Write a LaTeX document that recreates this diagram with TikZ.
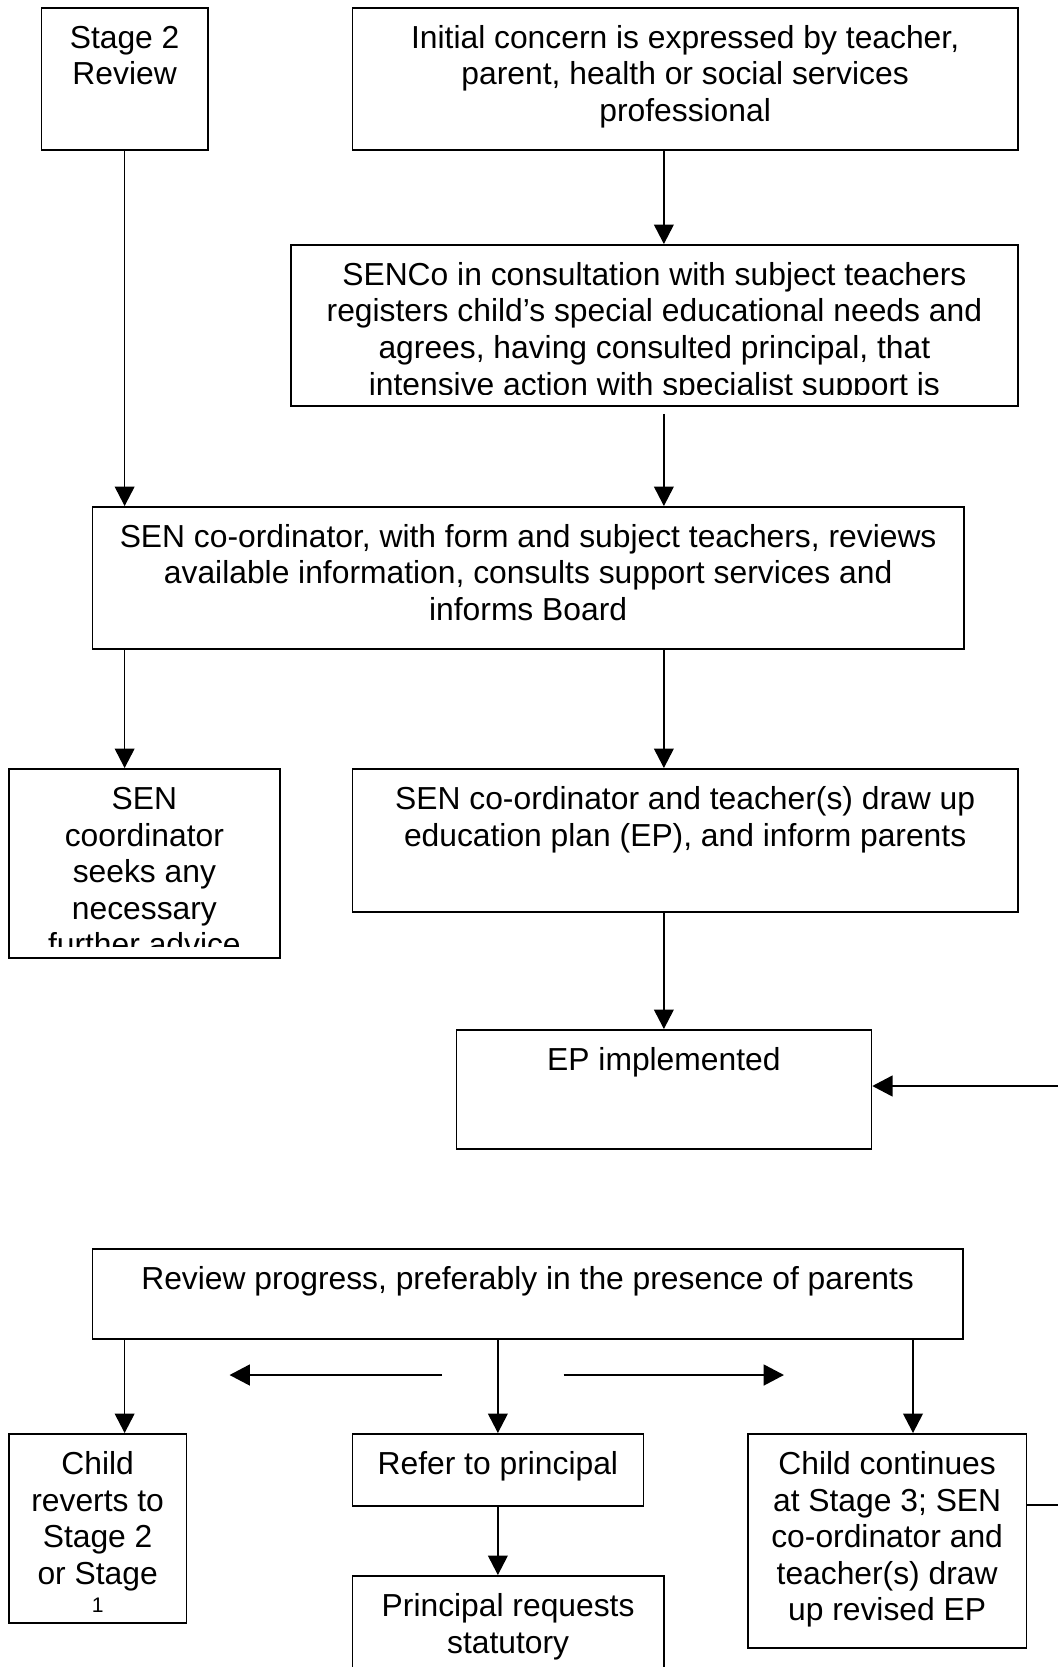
\documentclass[tikz,border=0pt]{standalone}
\usepackage{fontspec}
\setmainfont{Liberation Sans}
\usetikzlibrary{arrows.meta}

\begin{document}
\begin{tikzpicture}[
  caja/.style={draw, line width=1pt, inner sep=0pt, anchor=north west},
  texto/.style={font=\fontsize{18.1}{20.8}\selectfont, align=center, anchor=north, inner sep=0pt},
  flecha/.style={line width=0.8pt, -{Triangle[length=11pt,width=11.2pt]}},
  flechagruesa/.style={line width=1.4pt, -{Triangle[length=11.6pt,width=11.8pt]}}
]
%area de la pagina
\path[use as bounding box, clip] (0,0) rectangle (21.16,-33.34);

%cajas de arriba
\node[caja, minimum width=3.33cm, minimum height=2.84cm] (etapa2) at (0.81,-0.14) {};
\node[texto] (tetapa2) at ([yshift=-0.31cm]etapa2.north) {\strut Stage 2\\Review};
\node[caja, minimum width=13.31cm, minimum height=2.84cm] (inicial) at (7.03,-0.14) {};
\node[texto] (tinicial) at ([yshift=-0.31cm]inicial.north) {\strut Initial concern is expressed by teacher,\\parent, health or social services\\professional};

%caja del SENCo (texto cortado)
\node[caja, minimum width=14.54cm, minimum height=3.22cm] (senco) at (5.80,-4.88) {};
\begin{scope}
\clip (senco.north west) rectangle ([yshift=0.24cm]senco.south east);
\node[texto] (tsenco) at ([yshift=-0.31cm]senco.north) {\strut SENCo in consultation with subject teachers\\registers child’s special educational needs and\\agrees, having consulted principal, that\\intensive action with specialist support is};
\end{scope}

%revision del coordinador
\node[caja, minimum width=17.43cm, minimum height=2.84cm] (revisa) at (1.83,-10.12) {};
\node[texto] (trevisa) at ([yshift=-0.31cm]revisa.north) {\strut SEN co-ordinator, with form and subject teachers, reviews\\available information, consults support services and\\informs Board};

%asesoramiento y plan
\node[caja, minimum width=5.42cm, minimum height=3.78cm] (asesor) at (0.16,-15.36) {};
\begin{scope}
\clip (asesor.north west) rectangle ([yshift=0.24cm]asesor.south east);
\node[texto] (tasesor) at ([yshift=-0.31cm]asesor.north) {\strut SEN\\coordinator\\seeks any\\necessary\\further advice};
\end{scope}
\node[caja, minimum width=13.31cm, minimum height=2.86cm] (plan) at (7.03,-15.36) {};
\node[texto] (tplan) at ([yshift=-0.31cm]plan.north) {\strut SEN co-ordinator and teacher(s) draw up\\education plan (EP), and inform parents};

\node[caja, minimum width=8.30cm, minimum height=2.38cm] (aplica) at (9.11,-20.58) {};
\node[texto] (taplica) at ([yshift=-0.31cm]aplica.north) {\strut EP implemented};

%revision del progreso
\node[caja, minimum width=17.41cm, minimum height=1.80cm] (progreso) at (1.83,-24.96) {};
\node[texto] (tprogreso) at ([yshift=-0.31cm]progreso.north) {\strut Review progress, preferably in the presence of parents};

%cajas de abajo
\node[caja, minimum width=3.55cm, minimum height=3.78cm] (vuelve) at (0.16,-28.66) {};
\node[texto] (tvuelve) at ([yshift=-0.31cm]vuelve.north) {\strut Child\\reverts to\\Stage 2\\or Stage\\[-4.6pt]{\fontsize{12}{13}\selectfont 1}};
\node[caja, minimum width=5.82cm, minimum height=1.44cm] (director) at (7.03,-28.66) {};
\node[texto] (tdirector) at ([yshift=-0.31cm]director.north) {\strut Refer to principal};
\node[caja, minimum width=6.23cm, minimum height=2.5cm] (solicita) at (7.03,-31.50) {};
\node[texto] (tsolicita) at ([yshift=-0.31cm]solicita.north) {\strut Principal requests\\statutory};
\node[caja, minimum width=5.57cm, minimum height=4.28cm] (continua) at (14.94,-28.66) {};
\node[texto] (tcontinua) at ([yshift=-0.31cm]continua.north) {\strut Child continues\\at Stage 3; SEN\\co-ordinator and\\teacher(s) draw\\up revised EP};

%flechas de arriba
\draw[flecha] (etapa2.south) -- (etapa2.south |- revisa.north);
\draw[flecha] (inicial.south -| aplica) -- (senco.north -| aplica);
\draw[flecha, shorten <=0.14cm] (senco.south -| aplica) -- (revisa.north -| aplica);
\draw[flecha] (revisa.south -| etapa2) -- (asesor.north -| etapa2);
\draw[flecha] (revisa.south -| aplica) -- (plan.north -| aplica);
\draw[flecha] (plan.south -| aplica) -- (aplica.north);

%flechas de abajo
\coordinate (der) at (18.26,-26.76);
\draw[flecha] (progreso.south -| etapa2) -- (vuelve.north -| etapa2);
\draw[flecha] (progreso.south -| director) -- (director.north);
\draw[flecha] (progreso.south -| der) -- (continua.north -| der);
\draw[flecha] (director.south) -- (solicita.north -| director);

%flechas sueltas
\coordinate (izq1) at (8.84,-27.50);
\coordinate (izq2) at (4.59,-27.50);
\coordinate (der1) at (11.27,-27.50);
\coordinate (der2) at (15.68,-27.50);
\draw[flechagruesa] (izq1) -- (izq2);
\draw[flechagruesa] (der1) -- (der2);

%vuelta por el borde derecho
\coordinate (borde1) at (21.16,-21.72);
\coordinate (borde2) at (21.16,-30.10);
\draw[flechagruesa] (borde1) -- (borde1 -| aplica.east);
\draw[line width=0.8pt] (borde2 -| continua.east) -- (borde2);
\end{tikzpicture}
\end{document}
